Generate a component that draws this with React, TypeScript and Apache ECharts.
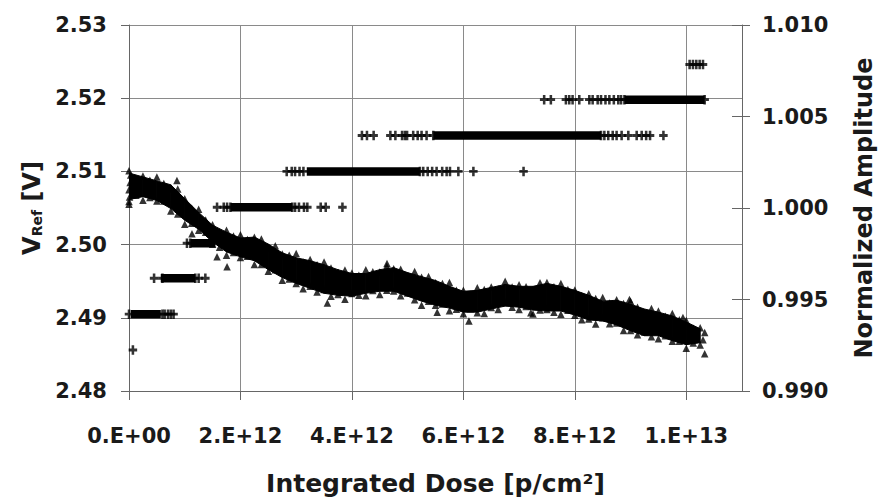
import React, { useEffect, useRef } from "react";
import * as echarts from "echarts";

// ---------- DATA ----------
// Dose values are in units of 1e12 p/cm^2.
const X_TICKS_MAX = 11; // axis max (1.1E+13)

// Normalized amplitude (right axis) - band of triangles
const bandStep = 0.25; // dose spacing of band edge samples
const ampBandTop = [1.00191, 1.0017, 1.00148, 1.00127, 1.00051, 0.99976, 0.99906, 0.99868, 0.99836, 0.99841, 0.99803, 0.99755, 0.99728, 0.99712, 0.9969, 0.99663, 0.99642, 0.99642, 0.99663, 0.99674, 0.99647, 0.99625, 0.99604, 0.99572, 0.99545, 0.9955, 0.99566, 0.99582, 0.99572, 0.99572, 0.99588, 0.99572, 0.9955, 0.99523, 0.99491, 0.99496, 0.99474, 0.99448, 0.99431, 0.9941, 0.99377, 0.9934];
const ampBandBottom = [1.00046, 1.00062, 1.00041, 0.99997, 0.99933, 0.99884, 0.99814, 0.9976, 0.99733, 0.99712, 0.99663, 0.9962, 0.99588, 0.99561, 0.99534, 0.99523, 0.99518, 0.99534, 0.99545, 0.99545, 0.99518, 0.99491, 0.99469, 0.99453, 0.99431, 0.99431, 0.99448, 0.99464, 0.99458, 0.99442, 0.99437, 0.99437, 0.99415, 0.99388, 0.99383, 0.99361, 0.99329, 0.99302, 0.99302, 0.99275, 0.99253, 0.99264];

const triStep = 0.125; // dose spacing of the edge triangles
const ampTopTriangles = [1.00203, 1.00162, 1.00175, 1.00151, 1.00169, 1.00134, 1.00105, 1.00104, 1.00051, 0.99999, 0.99993, 0.99934, 0.99909, 0.99864, 0.99879, 0.99847, 0.99854, 0.99828, 0.9984, 0.9983, 0.99784, 0.99794, 0.99748, 0.99742, 0.99751, 0.99705, 0.99718, 0.9969, 0.99705, 0.99672, 0.99647, 0.99661, 0.99645, 0.99633, 0.99662, 0.99651, 0.9965, 0.99682, 0.99668, 0.99665, 0.99629, 0.99653, 0.99622, 0.99626, 0.99592, 0.99588, 0.99593, 0.99551, 0.99551, 0.99529, 0.99564, 0.99554, 0.99568, 0.99559, 0.996, 0.99568, 0.9958, 0.99569, 0.99551, 0.99592, 0.99593, 0.9957, 0.99587, 0.99555, 0.99552, 0.9952, 0.99532, 0.99506, 0.99511, 0.99481, 0.99499, 0.99478, 0.99491, 0.99457, 0.9943, 0.99451, 0.99437, 0.99408, 0.99424, 0.9939, 0.99385, 0.99343, 0.99345];
const ampBottomTriangles = [1.00036, 1.0007, 1.00043, 1.00058, 1.00038, 1.00038, 0.99984, 0.99967, 0.99911, 0.99917, 0.99878, 0.99867, 0.99802, 0.99786, 0.99742, 0.99757, 0.99729, 0.99736, 0.99691, 0.99691, 0.99654, 0.99662, 0.99605, 0.99612, 0.99587, 0.99559, 0.99573, 0.99541, 0.99555, 0.99518, 0.99528, 0.99501, 0.99533, 0.99523, 0.99521, 0.99549, 0.99527, 0.99551, 0.99547, 0.9952, 0.99535, 0.99498, 0.99469, 0.99491, 0.99468, 0.99475, 0.99438, 0.99447, 0.99422, 0.99449, 0.99427, 0.99424, 0.99456, 0.99446, 0.99484, 0.99458, 0.99445, 0.99462, 0.99421, 0.99443, 0.99446, 0.9943, 0.99419, 0.99441, 0.99414, 0.9939, 0.99394, 0.99366, 0.994, 0.99368, 0.99372, 0.9933, 0.99331, 0.99307, 0.99323, 0.99296, 0.99286, 0.99302, 0.99272, 0.99272, 0.99234, 0.99262, 0.99252];

const ampExtraDose = [0.0, 0.01, 0.0, 0.02, 0.03, 0.86, 1.13, 1.58, 1.76, 3.56, 4.63, 5.53, 6.1, 7.21, 8.98, 9.94, 10.33, 10.33, 10.3];
const ampExtraValue = [1.0002, 1.0006, 1.001, 1.0014, 1.0018, 1.0015, 0.99859, 0.99733, 0.99679, 0.99481, 0.99697, 0.99431, 0.99383, 0.99428, 0.995, 0.99401, 0.99203, 0.9932, 0.9928];

// V_Ref (left axis) - quantized levels drawn with crosses
const vrefLevels = [2.4856, 2.4905, 2.4954, 2.5002, 2.5051, 2.51, 2.5149, 2.5198, 2.5246];
// dense runs: [levelIndex, startDose, endDose]
const vrefRuns: [number, number, number][] = [
  [1, 0.03, 0.57],
  [2, 0.57, 1.19],
  [3, 1.1, 1.55],
  [4, 1.82, 2.93],
  [5, 3.19, 5.22],
  [6, 5.46, 8.47],
  [7, 8.89, 10.33],
];
// individual crosses per level (dose)
const vrefPoints: number[][] = [
  [0.07],
  [0.0, 0.6, 0.64, 0.7, 0.75, 0.8],
  [0.45, 0.6, 1.19, 1.25, 1.37],
  [1.04, 1.1],
  [1.58, 1.7, 1.76, 1.82, 2.93, 2.98, 3.05, 3.14, 3.2, 3.44, 3.53, 3.83],
  [2.83, 2.92, 2.98, 3.06, 3.13, 5.22, 5.28, 5.36, 5.44, 5.52, 5.62, 5.7, 5.76, 5.91, 6.18, 7.08],
  [4.18, 4.27, 4.39, 4.69, 4.78, 4.9, 4.95, 4.99, 5.1, 5.18, 5.25, 5.34, 5.46, 8.47, 8.53, 8.6, 8.68, 8.75, 8.84, 8.96, 9.11, 9.2, 9.28, 9.35, 9.59],
  [7.45, 7.57, 7.84, 7.9, 7.96, 8.08, 8.26, 8.32, 8.41, 8.47, 8.55, 8.62, 8.7, 8.78, 8.83, 8.89, 10.33],
  [10.06, 10.12, 10.18, 10.24, 10.3],
];

const leftMin = 2.48, leftMax = 2.53, leftInterval = 0.01;
const rightMin = 0.99, rightMax = 1.01, rightInterval = 0.005;
const xInterval = 2; // E12

// ---------- STYLE ----------
const FONT = "DejaVu Sans";
const GRID_COLOR = "#8a8a8a";
const AXIS_COLOR = "#666666";
const CROSS = "path://M3.5,0h3v3.5h3.5v3h-3.5v3.5h-3v-3.5h-3.5v-3h3.5z";

function fmtDose(v: number): string {
  if (v === 0) return "0.E+00";
  const e = Math.floor(Math.log10(v) + 1e-9);
  const m = Math.round(v / Math.pow(10, e));
  return `${m}.E+${e < 10 ? "0" + e : e}`;
}

export default function App() {
  const ref = useRef<HTMLDivElement>(null);
  useEffect(() => {
    if (!ref.current) return;
    const chart = echarts.init(ref.current, undefined, { renderer: "svg" });
    const E = 1e12;

    const bandData = ampBandTop.map((v, i) => [i * bandStep * E, v, ampBandBottom[i]]);
    const topTri = ampTopTriangles.map((v, i) => [i * triStep * E, v]);
    const botTri = ampBottomTriangles.map((v, i) => [i * triStep * E, v]);
    const extraTri = ampExtraValue.map((v, i) => [ampExtraDose[i] * E, v]);
    const crossData: number[][] = [];
    vrefPoints.forEach((pts, li) => pts.forEach((d) => crossData.push([d * E, vrefLevels[li]])));

    const runSeries = vrefRuns.map(([li, a, b]) => ({
      type: "line",
      yAxisIndex: 0,
      data: [[a * E, vrefLevels[li]], [b * E, vrefLevels[li]]],
      symbol: "none",
      lineStyle: { color: "#000", width: 8.5, cap: "butt" },
      silent: true,
      z: 3,
    }));

    const labelStyle = { fontFamily: FONT, fontWeight: "bold", fontSize: 21, color: "#1a1a1a" };
    const triStyle = { symbol: "triangle", symbolSize: 7.5, itemStyle: { color: "#000" }, silent: true };

    chart.setOption({
      animation: false,
      backgroundColor: "#fff",
      grid: { left: 129, right: 142, top: 25, bottom: 105, containLabel: false },
      xAxis: {
        type: "value",
        min: 0,
        max: X_TICKS_MAX * E,
        interval: xInterval * E,
        name: "Integrated Dose [p/cm²]",
        nameLocation: "middle",
        nameGap: 80,
        nameTextStyle: { fontFamily: FONT, fontWeight: "bold", fontSize: 25, color: "#1a1a1a" },
        axisLine: { show: true, lineStyle: { color: AXIS_COLOR, width: 1 } },
        axisTick: { show: true, inside: false, length: 9, lineStyle: { color: AXIS_COLOR } },
        axisLabel: { ...labelStyle, margin: 34, showMaxLabel: false, formatter: (v: number) => fmtDose(v) },
        splitLine: { show: true, lineStyle: { color: GRID_COLOR, width: 1 } },
      },
      yAxis: [
        {
          type: "value",
          position: "left",
          min: leftMin,
          max: leftMax,
          interval: leftInterval,
          name: "{a|V}{b|Ref}{a| [V]}",
          nameLocation: "middle",
          nameGap: 80,
          nameTextStyle: {
            fontFamily: FONT,
            fontWeight: "bold",
            fontSize: 24,
            color: "#1a1a1a",
            rich: {
              a: { fontFamily: FONT, fontWeight: "bold", fontSize: 24, lineHeight: 30, color: "#1a1a1a", verticalAlign: "bottom" },
              b: { fontFamily: FONT, fontWeight: "bold", fontSize: 14, lineHeight: 30, color: "#1a1a1a", verticalAlign: "bottom" },
            },
          },
          axisLine: { show: true, lineStyle: { color: AXIS_COLOR, width: 1 } },
          axisTick: { show: true, inside: false, length: 8, lineStyle: { color: AXIS_COLOR } },
          axisLabel: { ...labelStyle, margin: 22, formatter: (v: number) => v.toFixed(2) },
          splitLine: { show: true, lineStyle: { color: GRID_COLOR, width: 1 } },
        },
        {
          type: "value",
          position: "right",
          min: rightMin,
          max: rightMax,
          interval: rightInterval,
          name: "Normalized Amplitude",
          nameLocation: "middle",
          nameGap: 110,
          nameTextStyle: { fontFamily: FONT, fontWeight: "bold", fontSize: 24, color: "#1a1a1a" },
          axisLine: { show: true, lineStyle: { color: AXIS_COLOR, width: 1 } },
          axisTick: { show: true, inside: false, length: 8, lineStyle: { color: AXIS_COLOR } },
          axisLabel: { ...labelStyle, margin: 20, formatter: (v: number) => v.toFixed(3) },
          splitLine: { show: false },
        },
        {
          type: "value",
          position: "right",
          min: rightMin,
          max: rightMax,
          interval: rightInterval,
          axisLine: { show: false },
          axisTick: { show: true, inside: true, length: 10, lineStyle: { color: AXIS_COLOR } },
          axisLabel: { show: false },
          splitLine: { show: false },
        },
      ],
      series: [
        {
          type: "custom",
          yAxisIndex: 1,
          data: bandData,
          silent: true,
          clip: true,
          renderItem: (params: any, api: any) => {
            const i = params.dataIndex;
            if (i >= bandData.length - 1) return null;
            const a = bandData[i];
            const b = bandData[i + 1];
            const pts = [
              api.coord([a[0], a[1]]),
              api.coord([b[0], b[1]]),
              api.coord([b[0], b[2]]),
              api.coord([a[0], a[2]]),
            ];
            return {
              type: "polygon",
              shape: { points: pts },
              style: { fill: "#000", stroke: "#000", lineWidth: 1 },
            };
          },
          z: 2,
        },
        { type: "scatter", yAxisIndex: 1, data: topTri, ...triStyle },
        { type: "scatter", yAxisIndex: 1, data: botTri, ...triStyle },
        { type: "scatter", yAxisIndex: 1, data: extraTri, ...triStyle },
        ...runSeries,
        {
          type: "scatter",
          yAxisIndex: 0,
          data: crossData,
          symbol: CROSS,
          symbolSize: [8.5, 9.5],
          itemStyle: { color: "#000" },
          silent: true,
          z: 4,
        },
      ],
    });
    return () => chart.dispose();
  }, []);
  return <div ref={ref} style={{ width: 884, height: 501, position: "absolute", left: 0, top: 0 }} />;
}
